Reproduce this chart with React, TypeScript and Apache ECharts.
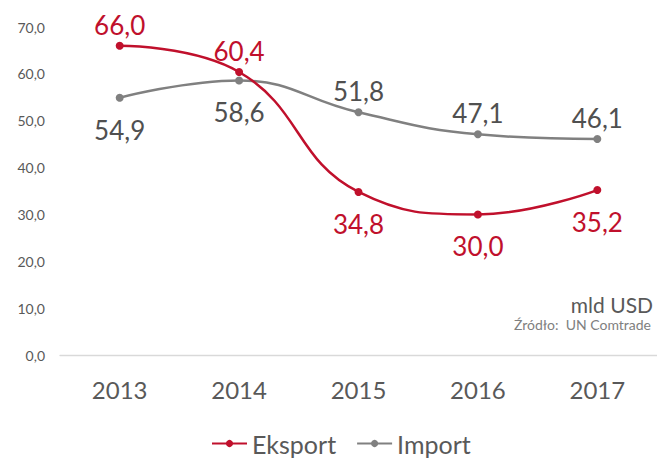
import React, { useEffect, useRef } from "react";
import * as echarts from "echarts";

const years = ["2013", "2014", "2015", "2016", "2017"];
const eksport = [66.0, 60.4, 34.8, 30.0, 35.2];
const importVals = [54.9, 58.6, 51.8, 47.1, 46.1];
const eksportLabelPos = ["top", "top", "bottom", "bottom", "bottom"];
const importLabelPos = ["bottom", "bottom", "top", "top", "top"];

const fmt = (v: number) => v.toFixed(1).replace(".", ",");
const FONT = "Lato, 'Open Sans', sans-serif";
const RED = "#C0102C";
const GRAY = "#808080";

export default function App() {
  const ref = useRef<HTMLDivElement>(null);
  useEffect(() => {
    const chart = echarts.init(ref.current!, null, { renderer: "svg" });
    const mk = (vals: number[], pos: string[]) =>
      vals.map((v, i) => ({
        value: v,
        label: { position: pos[i] as any, distance: pos[i] === "top" ? 4 : 15 },
      }));
    chart.setOption({
      animation: false,
      grid: { left: 60, right: -8, top: 27, bottom: 104 },
      xAxis: {
        type: "category",
        data: years,
        boundaryGap: true,
        axisTick: { show: false },
        axisLine: { lineStyle: { color: "#D9D9D9", width: 1.3 } },
        axisLabel: { color: "#595959", fontSize: 24, fontFamily: FONT, margin: 22 },
      },
      yAxis: {
        type: "value",
        min: 0,
        max: 70,
        interval: 10,
        splitLine: { show: false },
        axisLine: { show: false },
        axisTick: { show: false },
        axisLabel: {
          color: "#595959",
          fontSize: 14,
          fontFamily: FONT,
          margin: 15,
          formatter: (v: number) => fmt(v),
        },
      },
      legend: {
        bottom: -2,
        left: 206,
        itemWidth: 35,
        itemHeight: 9,
        itemGap: 20,
        textStyle: { color: "#595959", fontSize: 25, fontFamily: FONT },
        data: ["Eksport", "Import"],
      },
      graphic: [
        {
          type: "text",
          right: 4,
          top: 294,
          style: { text: "mld USD", fill: "#595959", font: `21px ${FONT}` },
        },
        {
          type: "text",
          right: 6,
          top: 317,
          style: { text: "Źródło:  UN Comtrade", fill: "#808080", font: `14px ${FONT}` },
        },
      ],
      series: [
        {
          name: "Eksport",
          type: "line",
          smooth: 0.45,
          data: mk(eksport, eksportLabelPos),
          symbol: "circle",
          symbolSize: 8,
          lineStyle: { color: RED, width: 2.5 },
          itemStyle: { color: RED },
          label: {
            show: true,
            color: RED,
            fontSize: 26,
            fontFamily: FONT,
            formatter: (p: any) => fmt(p.value),
          },
          z: 3,
        },
        {
          name: "Import",
          type: "line",
          smooth: 0.45,
          data: mk(importVals, importLabelPos),
          symbol: "circle",
          symbolSize: 8,
          lineStyle: { color: GRAY, width: 2.5 },
          itemStyle: { color: GRAY },
          label: {
            show: true,
            color: "#505050",
            fontSize: 26,
            fontFamily: FONT,
            formatter: (p: any) => fmt(p.value),
          },
          z: 2,
        },
      ],
    });
    return () => chart.dispose();
  }, []);
  return <div ref={ref} style={{ width: 657, height: 459, position: "absolute", left: 0, top: 0 }} />;
}
